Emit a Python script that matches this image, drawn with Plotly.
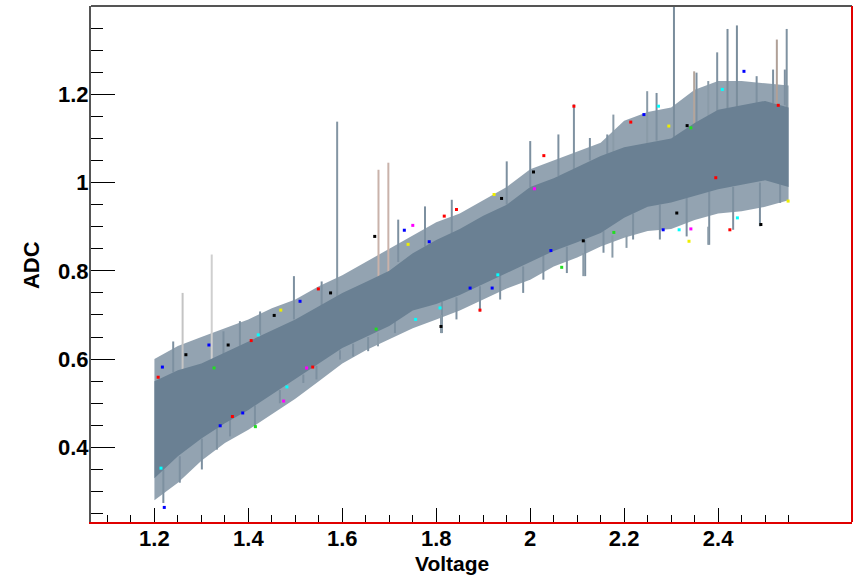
import plotly.graph_objects as go

# ---------------- data ----------------
volt = [1.20, 1.25, 1.30, 1.35, 1.40, 1.45, 1.50, 1.55, 1.60, 1.65, 1.70, 1.75, 1.80, 1.85,
        1.90, 1.95, 2.00, 2.05, 2.10, 2.15, 2.20, 2.25, 2.30, 2.35, 2.40, 2.45, 2.50, 2.55]
fringe_top = [0.60, 0.63, 0.65, 0.67, 0.69, 0.715, 0.735, 0.765, 0.79, 0.82, 0.85, 0.88, 0.91, 0.93,
              0.96, 0.99, 1.03, 1.05, 1.07, 1.09, 1.14, 1.16, 1.17, 1.21, 1.23, 1.23, 1.225, 1.22]
core_top = [0.55, 0.575, 0.59, 0.615, 0.64, 0.665, 0.69, 0.72, 0.75, 0.775, 0.80, 0.84, 0.87, 0.895,
            0.925, 0.95, 0.99, 1.01, 1.035, 1.06, 1.08, 1.09, 1.10, 1.135, 1.165, 1.175, 1.185, 1.17]
core_bot = [0.33, 0.38, 0.42, 0.455, 0.485, 0.52, 0.555, 0.59, 0.625, 0.65, 0.675, 0.71, 0.725, 0.745,
            0.77, 0.795, 0.82, 0.845, 0.865, 0.886, 0.92, 0.945, 0.955, 0.97, 0.985, 0.995, 1.005, 0.99]
fringe_bot = [0.28, 0.32, 0.37, 0.41, 0.44, 0.475, 0.51, 0.55, 0.59, 0.62, 0.645, 0.67, 0.69, 0.71,
              0.735, 0.76, 0.78, 0.81, 0.83, 0.855, 0.875, 0.89, 0.895, 0.915, 0.93, 0.935, 0.945, 0.96]

# spiky upper silhouette of the band: position, tip, foot
up_x = [1.240, 1.347, 1.382, 1.425, 1.497, 1.556, 1.719, 1.776, 1.833, 1.950, 2.000, 2.060,
        2.127, 2.164, 2.269, 2.354, 2.482, 2.517, 2.542]
up_tip = [0.640, 0.663, 0.686, 0.708, 0.788, 0.776, 0.916, 0.946, 0.961, 1.048, 1.094, 1.109,
          1.101, 1.109, 1.203, 1.249, 1.241, 1.256, 1.256]
up_foot = [0.57, 0.61, 0.63, 0.655, 0.69, 0.72, 0.82, 0.855, 0.885, 0.95, 0.99, 1.015,
           1.05, 1.065, 1.095, 1.135, 1.18, 1.18, 1.175]
# spiky lower silhouette of the band: position, tip, foot
dn_x = [1.219, 1.254, 1.301, 1.333, 1.361, 1.414, 1.467, 1.517, 1.545, 1.595, 1.623, 1.655,
        1.712, 1.812, 1.843, 1.893, 1.936, 1.985, 2.028, 2.078, 2.117, 2.156, 2.219, 2.276,
        2.333, 2.381, 2.432, 2.489, 2.532]
dn_tip = [0.274, 0.320, 0.350, 0.395, 0.425, 0.444, 0.500, 0.546, 0.554, 0.599, 0.606, 0.618,
          0.659, 0.659, 0.690, 0.708, 0.735, 0.750, 0.780, 0.795, 0.788, 0.841, 0.871, 0.871,
          0.878, 0.859, 0.893, 0.901, 0.954]
dn_foot = [0.35, 0.38, 0.42, 0.445, 0.47, 0.495, 0.53, 0.565, 0.585, 0.62, 0.635, 0.65,
           0.685, 0.73, 0.74, 0.765, 0.79, 0.81, 0.835, 0.855, 0.87, 0.89, 0.93, 0.95,
           0.965, 0.98, 0.99, 1.00, 1.00]

# isolated tall spikes: position, foot, tip, colour
spike_x = [1.260, 1.322, 1.589, 1.677, 1.698, 2.093, 2.177, 2.249, 2.306, 2.349, 2.379, 2.398,
           2.420, 2.440, 2.525, 2.546]
spike_base = [0.55, 0.58, 0.74, 0.78, 0.79, 1.03, 1.06, 1.08, 1.09, 1.12, 1.13, 1.14,
              1.15, 1.16, 1.17, 1.17]
spike_tip = [0.750, 0.837, 1.138, 1.029, 1.045, 1.177, 1.154, 1.207, 1.400, 1.252, 1.230, 1.295,
             1.348, 1.356, 1.324, 1.348]
spike_col = ["#c4c4c4", "#cfcfcf", "#8395a3", "#c9b2aa", "#c9b2aa", "#7f92a1", "#8a9ba8", "#8a9ba8",
             "#7a8d9c", "#b3a59b", "#8a9ba8", "#7f92a1", "#7a8d9c", "#7a8d9c", "#b0a097", "#7f92a1"]
low_spike_x = [1.676, 1.810, 2.113, 2.175, 2.205, 2.379]
low_spike_top = [0.66, 0.70, 0.84, 0.88, 0.88, 0.90]
low_spike_bot = [0.629, 0.659, 0.788, 0.830, 0.852, 0.859]

# small coloured points scattered along the band
dots = {
    "red": ([1.208, 1.366, 1.406, 1.549, 1.537, 1.817, 1.843, 2.029, 1.893, 2.214, 2.528, 2.395, 2.425, 2.093],
            [0.559, 0.470, 0.642, 0.759, 0.582, 0.924, 0.939, 1.061, 0.711, 1.137, 1.175, 1.011, 0.893, 1.173]),
    "blue": ([1.217, 1.221, 1.316, 1.340, 1.388, 1.510, 1.732, 1.785, 2.044, 1.919, 1.872, 2.242, 2.455, 2.283],
             [0.582, 0.264, 0.632, 0.449, 0.478, 0.731, 0.892, 0.866, 0.846, 0.761, 0.761, 1.154, 1.252, 0.893]),
    "black": ([1.357, 1.455, 1.267, 1.575, 1.669, 1.939, 2.007, 1.810, 2.113, 2.334, 2.312, 2.491],
              [0.632, 0.699, 0.610, 0.750, 0.878, 0.964, 1.024, 0.674, 0.868, 1.129, 0.931, 0.905]),
    "#22dd22": ([1.327, 1.415, 1.672, 2.067, 2.342, 2.178],
                [0.580, 0.447, 0.668, 0.808, 1.124, 0.887]),
    "cyan": ([1.214, 1.482, 1.421, 1.931, 1.808, 1.756, 2.273, 2.409, 2.317, 2.441],
             [0.353, 0.537, 0.655, 0.791, 0.716, 0.690, 1.173, 1.211, 0.893, 0.920]),
    "magenta": ([1.475, 1.524, 1.750, 2.009, 2.342],
                [0.505, 0.580, 0.903, 0.986, 0.895]),
    "#eeee00": ([1.469, 1.740, 1.923, 2.295, 2.338, 2.549],
                [0.711, 0.860, 0.973, 1.128, 0.867, 0.958]),
}

x_ticks = [1.2, 1.4, 1.6, 1.8, 2.0, 2.2, 2.4]
x_tick_text = ["1.2", "1.4", "1.6", "1.8", "2", "2.2", "2.4"]
x_minor = [1.10, 1.15, 1.25, 1.30, 1.35, 1.45, 1.50, 1.55, 1.65, 1.70, 1.75, 1.85, 1.90, 1.95,
           2.05, 2.10, 2.15, 2.25, 2.30, 2.35, 2.45, 2.50, 2.55]
y_ticks = [0.4, 0.6, 0.8, 1.0, 1.2]
y_tick_text = ["0.4", "0.6", "0.8", "1", "1.2"]
y_minor = [0.25, 0.30, 0.35, 0.45, 0.50, 0.55, 0.65, 0.70, 0.75, 0.85, 0.90, 0.95,
           1.05, 1.10, 1.15, 1.25, 1.30, 1.35]

SLATE = "rgb(106,128,147)"
SPIKE = "#7d90a0"


def segments(xs, y0s, y1s):
    sx, sy = [], []
    for x, a, b in zip(xs, y0s, y1s):
        sx += [x, x, None]
        sy += [a, b, None]
    return sx, sy


fig = go.Figure()

# outer, spiky fringe of the band
fig.add_trace(go.Scatter(x=volt, y=fringe_bot, mode="lines", line=dict(width=0),
                         showlegend=False, hoverinfo="skip"))
fig.add_trace(go.Scatter(x=volt, y=fringe_top, mode="lines", line=dict(width=0),
                         fill="tonexty", fillcolor="rgba(106,128,147,0.72)",
                         showlegend=False, hoverinfo="skip"))

# silhouette spikes
ux, uy = segments(up_x, up_foot, up_tip)
fig.add_trace(go.Scatter(x=ux, y=uy, mode="lines", line=dict(color=SPIKE, width=2),
                         showlegend=False, hoverinfo="skip"))
dx_, dy_ = segments(dn_x, dn_foot, dn_tip)
fig.add_trace(go.Scatter(x=dx_, y=dy_, mode="lines", line=dict(color=SPIKE, width=2),
                         showlegend=False, hoverinfo="skip"))

# isolated tall spikes
for sx, sb, st, sc in zip(spike_x, spike_base, spike_tip, spike_col):
    fig.add_trace(go.Scatter(x=[sx, sx], y=[sb, st], mode="lines",
                             line=dict(color=sc, width=2), showlegend=False, hoverinfo="skip"))
lx, ly = segments(low_spike_x, low_spike_top, low_spike_bot)
fig.add_trace(go.Scatter(x=lx, y=ly, mode="lines", line=dict(color="#8a9ba8", width=2),
                         showlegend=False, hoverinfo="skip"))

# dense core of the band
fig.add_trace(go.Scatter(x=volt, y=core_bot, mode="lines", line=dict(width=0),
                         showlegend=False, hoverinfo="skip"))
fig.add_trace(go.Scatter(x=volt, y=core_top, mode="lines", line=dict(width=0),
                         fill="tonexty", fillcolor=SLATE,
                         showlegend=False, hoverinfo="skip"))

for col, (px_, py_) in dots.items():
    fig.add_trace(go.Scatter(x=px_, y=py_, mode="markers",
                             marker=dict(symbol="square", size=3, color=col, line=dict(width=0)),
                             showlegend=False, hoverinfo="skip"))

tick_font = dict(family="Liberation Sans", size=22, color="black", weight="bold")

fig.update_layout(
    width=858, height=578,
    margin=dict(l=91, r=6, t=6, b=56),
    paper_bgcolor="white", plot_bgcolor="white",
    xaxis=dict(range=[1.065, 2.685], tickmode="array", tickvals=x_ticks, ticktext=x_tick_text,
               ticks="inside", ticklen=14, tickwidth=1, tickcolor="black",
               minor=dict(tickmode="array", tickvals=x_minor, ticks="inside", ticklen=7,
                          tickwidth=1, tickcolor="black", showgrid=False),
               showgrid=False, zeroline=False, showline=True, linecolor="#e00000", linewidth=2,
               tickfont=tick_font, ticklabelstandoff=-4),
    yaxis=dict(range=[0.231, 1.40], tickmode="array", tickvals=y_ticks, ticktext=y_tick_text,
               ticks="inside", ticklen=24, tickwidth=1, tickcolor="black",
               minor=dict(tickmode="array", tickvals=y_minor, ticks="inside", ticklen=12,
                          tickwidth=1, tickcolor="black", showgrid=False),
               showgrid=False, zeroline=False, showline=True, linecolor="#555555", linewidth=2,
               tickfont=tick_font, ticklabelstandoff=-4),
    shapes=[
        dict(type="line", xref="paper", yref="paper", x0=0, x1=1, y0=1, y1=1,
             line=dict(color="#555555", width=2)),
        dict(type="line", xref="paper", yref="paper", x0=1, x1=1, y0=0, y1=1,
             line=dict(color="#e00000", width=2)),
    ],
    annotations=[
        dict(text="Voltage", xref="paper", yref="paper", x=0.474, y=-0.0795,
             xanchor="center", yanchor="middle", showarrow=False,
             font=dict(family="Liberation Sans", size=21, color="black", weight="bold")),
        dict(text="ADC", xref="paper", yref="paper", x=-0.0788, y=0.498, textangle=-90,
             xanchor="center", yanchor="middle", showarrow=False,
             font=dict(family="Liberation Sans", size=22, color="black", weight="bold")),
    ],
)

fig.write_html("out.html", config={"displayModeBar": False},
               post_script="document.body.style.margin='0px';")
